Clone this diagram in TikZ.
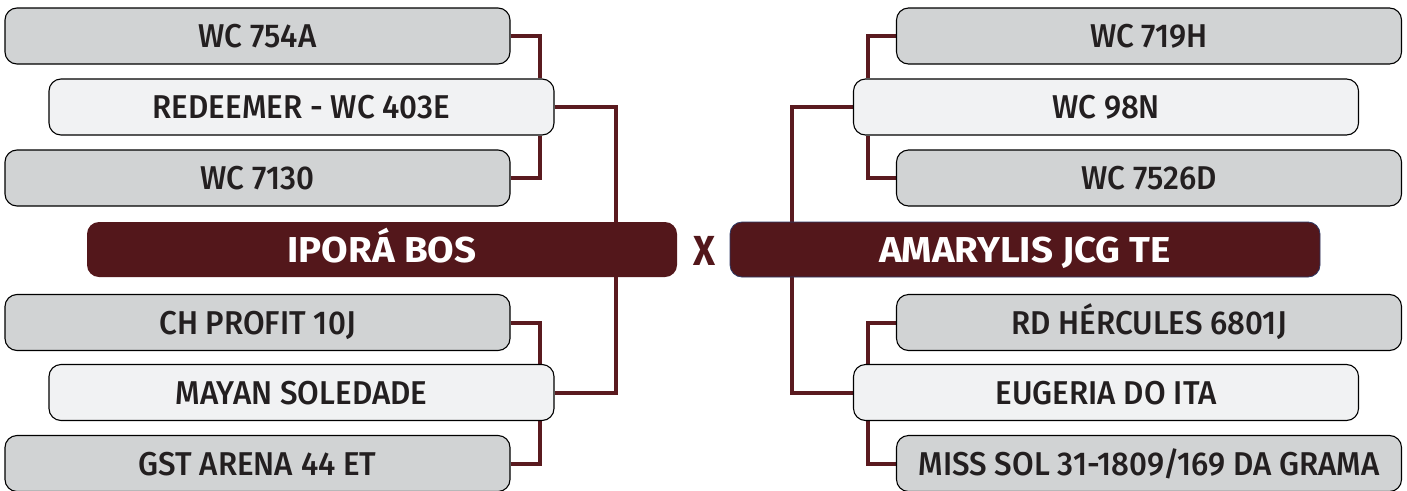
\documentclass[tikz,border=0pt]{standalone}
\usepackage{fontspec}
\usetikzlibrary{backgrounds}
\IfFontExistsTF{Fira Sans Medium}
  {\newfontfamily\itemfont{Fira Sans Medium}[FakeStretch=0.95]}
  {\newfontfamily\itemfont{Fira Sans}[FakeStretch=0.98,FakeBold=1.5]}
\newfontfamily\teamfont{Fira Sans}[FakeStretch=1.07]
\newfontfamily\xfont{Fira Sans}[FakeStretch=0.9]
\definecolor{boxgray}{HTML}{D1D3D4}
\definecolor{boxlight}{HTML}{F1F2F3}
\definecolor{maroon}{HTML}{53171B}
\definecolor{linemaroon}{HTML}{5A1A1F}
\definecolor{navyedge}{HTML}{2E3A66}
\definecolor{itemtext}{HTML}{231F20}
\tikzset{
  itembox/.style={draw=black, line width=1.1pt, rounded corners=12pt, fill=boxgray,
    minimum width=505pt, minimum height=56pt, inner sep=0pt,
    text height=23pt, text depth=0pt,
    font=\itemfont\fontsize{33}{36}\selectfont, text=itemtext},
  itemlight/.style={itembox, fill=boxlight},
  teambox/.style={fill=maroon, rounded corners=12pt, minimum width=590pt, minimum height=55pt,
    inner sep=0pt, text height=25pt, text depth=0pt,
    text=white, font=\teamfont\bfseries\fontsize{36}{40}\selectfont},
  conn/.style={draw=linemaroon, line width=4pt}
}
\begin{document}
\begin{tikzpicture}[x=1pt,y=-1pt]
\useasboundingbox (0,0) rectangle (1407,490);
% left
\node[itembox]   (A) at (257.5,36)  {WC 754A};
\node[itemlight] (B) at (301.5,107) {REDEEMER - WC 403E};
\node[itembox]   (C) at (257.5,178) {WC 7130};
\node[itembox]   (D) at (257.5,322.5) {CH PROFIT 10J};
\node[itemlight] (E) at (301.5,392.5) {MAYAN SOLEDADE};
\node[itembox]   (F) at (257.5,463.5) {GST ARENA 44 ET};
% right
\node[itembox]   (G) at (1149,36)  {WC 719H};
\node[itemlight] (H) at (1106,107) {WC 98N};
\node[itembox]   (I) at (1149,178) {WC 7526D};
\node[itembox]   (J) at (1149,322.5) {RD HÉRCULES 6801J};
\node[itemlight] (K) at (1106,392.5) {EUGERIA DO ITA};
\node[itembox]   (L) at (1149,463.5) {MISS SOL 31-1809/169 DA GRAMA};
% teams
\node[teambox] (ipora) at (382,249.5) {IPORÁ BOS};
\node[teambox, draw=navyedge, line width=0.8pt] (amar) at (1025,249.5) {AMARYLIS JCG TE};
\node[text=maroon, font=\xfont\bfseries\fontsize{42}{44}\selectfont, inner sep=0pt] (vs) at (704,251) {X};
\coordinate (xl) at (540,0);
\coordinate (xm) at (616,0);
\coordinate (xr) at (868,0);
\coordinate (xq) at (792,0);
\begin{scope}[on background layer]
\fill[white] (0,0) rectangle (1407,490);
\draw[conn] (A.east) -| (B.north -| xl);
\draw[conn] (C.east) -| (B.south -| xl);
\draw[conn] (D.east) -| (E.north -| xl);
\draw[conn] (F.east) -| (E.south -| xl);
\draw[conn] (B.east) -| (ipora.north -| xm);
\draw[conn] (E.east) -| (ipora.south -| xm);
\draw[conn] (G.west) -| (H.north -| xr);
\draw[conn] (I.west) -| (H.south -| xr);
\draw[conn] (J.west) -| (K.north -| xr);
\draw[conn] (L.west) -| (K.south -| xr);
\draw[conn] (H.west) -| (amar.north -| xq);
\draw[conn] (K.west) -| (amar.south -| xq);
\end{scope}
\end{tikzpicture}
\end{document}
